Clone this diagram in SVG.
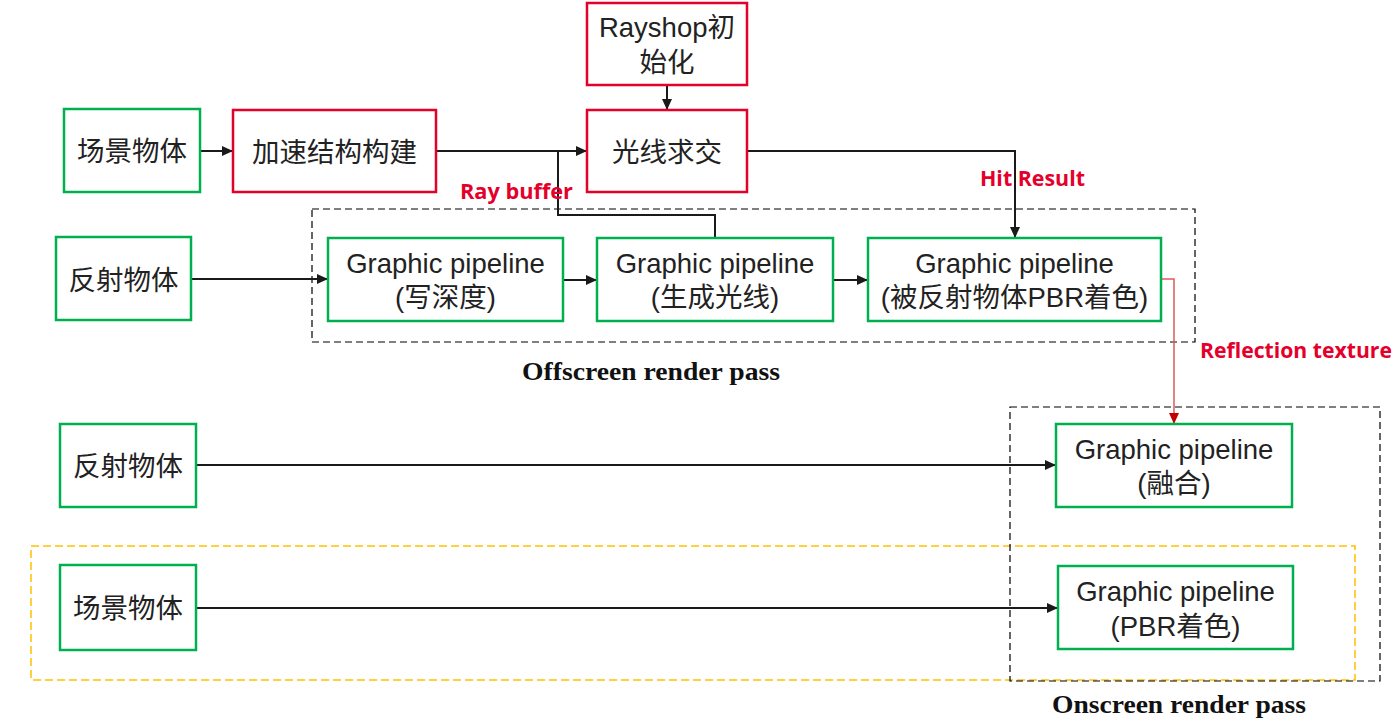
<svg xmlns="http://www.w3.org/2000/svg" width="1396" height="723" viewBox="0 0 1396 723">
  <style>
    .box-g { fill: #ffffff; stroke: #00B050; stroke-width: 2.5; }
    .box-r { fill: #ffffff; stroke: #E4002B; stroke-width: 2.5; }
    .t { font-family: "Liberation Sans", "Noto Sans CJK SC", sans-serif; font-size: 27.5px; fill: #222222; text-anchor: middle; }
    .lbl { font-family: "Open Sans", "Noto Sans", sans-serif; font-weight: bold; font-size: 21px; fill: #E4002B; }
    .pass { font-family: "Liberation Serif", serif; font-weight: bold; font-size: 26px; fill: #111111; }
    .wire { fill: none; stroke: #1a1a1a; stroke-width: 2; }
    .wire-red { fill: none; stroke: #E05A5A; stroke-width: 1.5; }
    .dash-k { fill: none; stroke: #000000; stroke-width: 1.2; stroke-dasharray: 7 4; }
    .dash-y { fill: none; stroke: #FFC000; stroke-width: 1.5; stroke-dasharray: 8 4; }
  </style>
  <defs>
    <marker id="arr" markerUnits="userSpaceOnUse" markerWidth="12" markerHeight="10" refX="11" refY="5" orient="auto">
      <path d="M0,0 L11,5 L0,10 z" fill="#1a1a1a"/>
    </marker>
    <marker id="arr-red" markerUnits="userSpaceOnUse" markerWidth="12" markerHeight="10" refX="11" refY="5" orient="auto">
      <path d="M0,0 L11,5 L0,10 z" fill="#C00000"/>
    </marker>
  </defs>
  <rect width="1396" height="723" fill="#ffffff"/>

  <g id="groups">
    <rect class="dash-k" x="312" y="209" width="883" height="133"/>
    <rect class="dash-y" x="31" y="546" width="1324" height="134"/>
    <rect class="dash-k" x="1010" y="407" width="370" height="274"/>
    <text class="pass" x="522" y="380" textLength="258" lengthAdjust="spacingAndGlyphs">Offscreen render pass</text>
    <text class="pass" x="1052" y="713" textLength="254" lengthAdjust="spacingAndGlyphs">Onscreen render pass</text>
  </g>

  <g id="connectors">
    <path class="wire" d="M200,151 H233" marker-end="url(#arr)"/>
    <path class="wire" d="M436,151 H587" marker-end="url(#arr)"/>
    <path class="wire" d="M667,85 V110" marker-end="url(#arr)"/>
    <path class="wire" d="M715,238 V215 H558 V151"/>
    <path class="wire" d="M747,151 H1015 V238" marker-end="url(#arr)"/>
    <path class="wire" d="M191,279 H328" marker-end="url(#arr)"/>
    <path class="wire" d="M563,280 H597" marker-end="url(#arr)"/>
    <path class="wire" d="M833,280 H868" marker-end="url(#arr)"/>
    <path class="wire-red" d="M1161,279 H1174 V424" marker-end="url(#arr-red)"/>
    <path class="wire" d="M196,465 H1056" marker-end="url(#arr)"/>
    <path class="wire" d="M196,608 H1058" marker-end="url(#arr)"/>
    <text class="lbl" x="460" y="199" textLength="113" lengthAdjust="spacingAndGlyphs">Ray buffer</text>
    <text class="lbl" x="980" y="186" textLength="105" lengthAdjust="spacingAndGlyphs">Hit Result</text>
    <text class="lbl" x="1200" y="358" textLength="192" lengthAdjust="spacingAndGlyphs">Reflection texture</text>
  </g>

  <g id="scene-top">
    <rect class="box-g" x="64" y="109" width="136" height="83"/>
    <text class="t" x="132" y="161">场景物体</text>
  </g>
  <g id="accel-build">
    <rect class="box-r" x="233" y="110" width="203" height="82"/>
    <text class="t" x="334.5" y="162">加速结构构建</text>
  </g>
  <g id="rayshop-init">
    <rect class="box-r" x="587" y="3" width="160" height="82"/>
    <text class="t" x="667" y="37">Rayshop初</text>
    <text class="t" x="667" y="72">始化</text>
  </g>
  <g id="ray-intersect">
    <rect class="box-r" x="587" y="110" width="160" height="82"/>
    <text class="t" x="667" y="162">光线求交</text>
  </g>
  <g id="reflect-obj-1">
    <rect class="box-g" x="56" y="237" width="135" height="83"/>
    <text class="t" x="123.5" y="290">反射物体</text>
  </g>
  <g id="gp-depth">
    <rect class="box-g" x="328" y="238" width="235" height="83"/>
    <text class="t" x="445.5" y="273">Graphic pipeline</text>
    <text class="t" x="445.5" y="307">(写深度)</text>
  </g>
  <g id="gp-genray">
    <rect class="box-g" x="597" y="238" width="236" height="83"/>
    <text class="t" x="715" y="273">Graphic pipeline</text>
    <text class="t" x="715" y="307">(生成光线)</text>
  </g>
  <g id="gp-reflected-pbr">
    <rect class="box-g" x="868" y="238" width="293" height="83"/>
    <text class="t" x="1014.5" y="273">Graphic pipeline</text>
    <text class="t" x="1014.5" y="307">(被反射物体PBR着色)</text>
  </g>
  <g id="reflect-obj-2">
    <rect class="box-g" x="60" y="424" width="136" height="83"/>
    <text class="t" x="128" y="476">反射物体</text>
  </g>
  <g id="gp-blend">
    <rect class="box-g" x="1056" y="424" width="236" height="83"/>
    <text class="t" x="1174" y="459">Graphic pipeline</text>
    <text class="t" x="1174" y="493">(融合)</text>
  </g>
  <g id="scene-bottom">
    <rect class="box-g" x="60" y="565" width="136" height="85"/>
    <text class="t" x="128" y="618">场景物体</text>
  </g>
  <g id="gp-pbr">
    <rect class="box-g" x="1058" y="566" width="235" height="83"/>
    <text class="t" x="1175.5" y="601">Graphic pipeline</text>
    <text class="t" x="1175.5" y="636">(PBR着色)</text>
  </g>
</svg>
